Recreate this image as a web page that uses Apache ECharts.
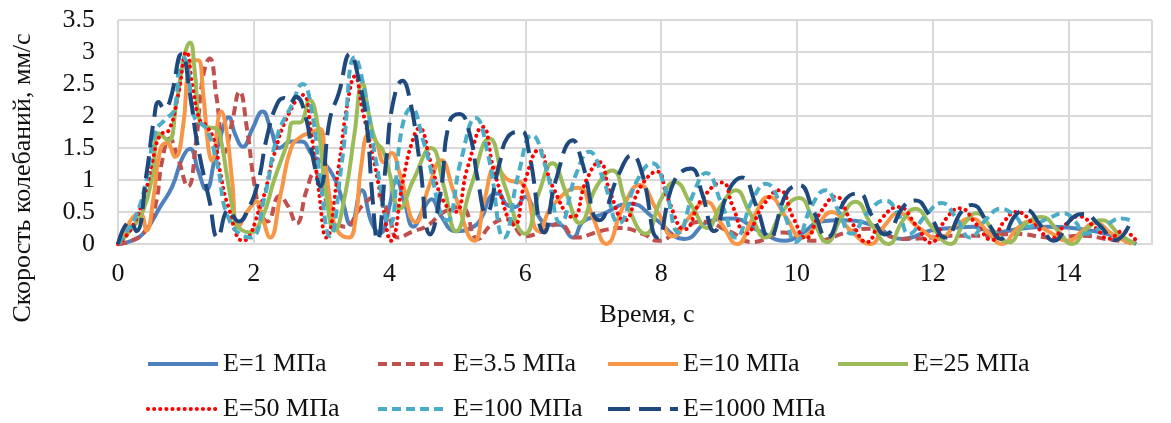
<!DOCTYPE html>
<html>
<head>
<meta charset="utf-8">
<script src="https://cdn.jsdelivr.net/npm/echarts@6/dist/echarts.min.js"></script>
<style>
  html, body { margin: 0; padding: 0; background: #fff; }
  #chart { width: 1171px; height: 423px; }
</style>
</head>
<body>
<div id="chart"></div>
<script>
// Vibration velocity (mm/s) versus time (s) for several soil moduli E.
// Each series is a list of [time, velocity] points.

const seriesNames = ['E=1 МПа', 'E=3.5 МПа', 'E=10 МПа', 'E=25 МПа', 'E=50 МПа', 'E=100 МПа', 'E=1000 МПа'];

const xTicks = [0, 2, 4, 6, 8, 10, 12, 14];

const e1 = [[0,0],[0.2,0.05],[0.4,0.2],[0.62,0.58],[0.8,0.9],[0.95,1.35],[1.06,1.49],[1.18,1.15],[1.3,0.85],[1.42,1.3],[1.52,1.72],[1.63,1.98],[1.73,1.7],[1.84,1.52],[1.98,1.8],[2.13,2.07],[2.25,1.8],[2.38,1.5],[2.55,1.6],[2.7,1.6],[2.87,1.38],[3.05,1.25],[3.2,1.0],[3.3,0.7],[3.43,0.3],[3.59,0.84],[3.74,0.32],[3.86,0.17],[4.0,0.6],[4.1,1.0],[4.22,0.65],[4.35,0.27],[4.5,0.55],[4.62,0.7],[4.75,0.45],[4.98,0.2],[5.2,0.25],[5.35,0.4],[5.5,0.76],[5.6,0.79],[5.72,0.62],[5.85,0.58],[6.0,0.74],[6.15,0.5],[6.35,0.3],[6.5,0.3],[6.7,0.1],[6.85,0.35],[7.1,0.45],[7.55,0.63],[7.9,0.4],[8.35,0.08],[8.7,0.35],[9.05,0.4],[9.45,0.2],[9.83,0.05],[10.08,0.17],[10.35,0.35],[10.65,0.37],[11.1,0.3],[11.55,0.08],[12.0,0.22],[12.3,0.25],[12.6,0.27],[12.9,0.18],[13.3,0.24],[13.7,0.27],[14.05,0.25],[14.43,0.19],[14.75,0.1],[15.0,0.0]];

const e3_5 = [[0,0],[0.2,0.05],[0.4,0.2],[0.55,0.6],[0.65,1.3],[0.76,1.65],[0.88,1.35],[1.03,0.9],[1.15,1.6],[1.25,2.6],[1.35,2.9],[1.45,2.3],[1.57,1.43],[1.68,1.9],[1.79,2.38],[1.9,1.8],[2.0,1.0],[2.1,0.5],[2.2,0.35],[2.38,0.75],[2.5,0.6],[2.63,0.32],[2.78,0.85],[2.9,1.12],[3.0,0.9],[3.15,0.45],[3.34,0.27],[3.6,0.6],[3.82,0.76],[4.0,0.4],[4.12,0.1],[4.35,0.2],[4.55,0.28],[4.8,0.5],[5.05,0.58],[5.3,0.08],[5.5,0.3],[5.72,0.39],[6.0,0.12],[6.25,0.2],[6.5,0.32],[6.75,0.1],[7.1,0.2],[7.4,0.25],[7.75,0.15],[7.95,0.05],[8.3,0.25],[8.6,0.35],[9.0,0.2],[9.35,0.03],[9.8,0.18],[10.24,0.05],[10.8,0.2],[11.05,0.24],[11.55,0.08],[12.0,0.1],[12.27,0.13],[12.8,0.13],[13.2,0.16],[13.78,0.1],[14.2,0.13],[14.6,0.07],[15.0,0.02]];

const e10 = [[0,0],[0.07,0.12],[0.22,0.42],[0.33,0.47],[0.42,0.21],[0.52,0.7],[0.62,1.47],[0.72,1.58],[0.84,1.36],[0.96,1.85],[1.03,2.7],[1.1,2.87],[1.18,2.87],[1.25,2.4],[1.33,1.51],[1.38,1.3],[1.52,2.07],[1.6,1.75],[1.68,1.0],[1.77,0.26],[1.9,0.5],[2.04,0.66],[2.13,0.4],[2.24,0.1],[2.4,0.8],[2.55,1.5],[2.7,1.68],[2.85,1.74],[2.97,1.8],[3.05,1.3],[3.15,0.5],[3.25,0.18],[3.4,0.1],[3.5,0.4],[3.58,1.2],[3.7,1.72],[3.8,1.6],[3.92,1.28],[4.03,1.42],[4.15,1.1],[4.39,0.34],[4.58,0.9],[4.76,1.31],[4.95,0.8],[5.25,0.05],[5.4,0.7],[5.57,1.2],[5.75,1.0],[5.95,0.95],[6.2,0.2],[6.4,0.6],[6.78,0.88],[7.0,0.4],[7.19,0.0],[7.45,0.6],[7.68,0.92],[7.95,0.5],[8.18,0.12],[8.4,0.4],[8.66,0.66],[8.9,0.3],[9.12,0.0],[9.35,0.4],[9.59,0.74],[9.85,0.4],[10.07,0.1],[10.3,0.3],[10.51,0.5],[10.8,0.2],[11.08,0.0],[11.3,0.3],[11.5,0.48],[11.8,0.25],[12.09,0.08],[12.35,0.3],[12.57,0.4],[12.8,0.2],[13.02,0.0],[13.25,0.25],[13.44,0.35],[13.7,0.2],[14.0,0.05],[14.2,0.2],[14.39,0.33],[14.65,0.15],[14.93,0.0]];

const e25 = [[0,0],[0.18,0.21],[0.37,0.52],[0.51,1.1],[0.6,1.73],[0.74,1.62],[0.86,2.2],[0.98,2.95],[1.06,3.15],[1.13,2.7],[1.2,1.93],[1.3,1.83],[1.45,1.8],[1.52,1.6],[1.6,1.1],[1.68,0.6],[1.75,0.3],[1.94,0.18],[2.12,0.4],[2.3,1.0],[2.5,1.6],[2.58,1.9],[2.68,1.9],[2.82,2.25],[2.95,1.8],[3.05,0.9],[3.19,0.21],[3.35,0.8],[3.48,1.7],[3.6,2.51],[3.7,2.0],[3.8,1.6],[3.9,1.47],[4.0,1.1],[4.15,0.55],[4.35,1.0],[4.61,1.5],[4.8,0.9],[4.98,0.2],[5.2,0.9],[5.47,1.65],[5.7,0.9],[6.0,0.16],[6.2,0.8],[6.4,1.26],[6.6,0.8],[6.8,0.33],[7.05,0.9],[7.28,1.15],[7.5,0.6],[7.77,0.16],[8.0,0.7],[8.2,0.97],[8.45,0.6],[8.68,0.25],[8.88,0.6],[9.1,0.84],[9.3,0.5],[9.54,0.1],[9.78,0.5],[10.03,0.72],[10.25,0.35],[10.44,0.03],[10.65,0.4],[10.86,0.66],[11.1,0.3],[11.35,0.0],[11.55,0.35],[11.74,0.55],[12.0,0.25],[12.26,0.0],[12.45,0.3],[12.65,0.48],[12.9,0.2],[13.12,0.03],[13.35,0.3],[13.6,0.42],[13.85,0.2],[14.05,0.0],[14.28,0.25],[14.49,0.37],[14.75,0.15],[14.98,0.0]];

const e50 = [[0,0],[0.2,0.25],[0.4,0.8],[0.5,1.26],[0.62,1.7],[0.75,1.78],[0.88,2.3],[1.01,3.0],[1.1,2.45],[1.2,1.95],[1.3,1.85],[1.42,1.6],[1.5,1.15],[1.62,0.6],[1.84,0.05],[2.1,0.6],[2.3,1.4],[2.5,2.0],[2.72,2.33],[2.85,1.7],[2.95,0.9],[3.07,0.1],[3.25,1.2],[3.38,2.2],[3.49,2.62],[3.6,2.1],[3.75,1.4],[3.9,0.6],[4.02,0.05],[4.2,1.0],[4.32,1.55],[4.44,1.81],[4.6,1.3],[4.78,0.7],[4.96,0.5],[5.15,1.2],[5.37,1.83],[5.55,1.1],[5.84,0.3],[6.0,1.0],[6.2,1.47],[6.4,0.9],[6.7,0.42],[6.9,1.0],[7.09,1.28],[7.25,0.8],[7.46,0.37],[7.7,0.9],[7.94,1.13],[8.1,0.7],[8.35,0.23],[8.6,0.7],[8.9,0.96],[9.05,0.6],[9.25,0.16],[9.5,0.6],[9.74,0.84],[9.95,0.4],[10.13,0.09],[10.35,0.5],[10.57,0.74],[10.8,0.35],[11.03,0.03],[11.25,0.4],[11.5,0.58],[11.75,0.3],[11.97,0.02],[12.2,0.4],[12.4,0.56],[12.65,0.3],[12.87,0.06],[13.05,0.35],[13.24,0.5],[13.5,0.3],[13.75,0.09],[13.95,0.3],[14.15,0.43],[14.4,0.25],[14.59,0.08],[14.8,0.2],[15.0,0.05]];

const e100 = [[0,0],[0.1,0.15],[0.25,0.4],[0.42,1.0],[0.55,1.75],[0.7,1.95],[0.83,2.1],[0.93,2.97],[1.02,2.8],[1.12,2.0],[1.3,1.8],[1.45,1.3],[1.65,0.35],[1.95,0.1],[2.15,0.7],[2.35,1.7],[2.55,2.15],[2.72,2.5],[2.85,2.1],[2.98,1.0],[3.12,0.12],[3.3,1.3],[3.49,2.92],[3.63,2.4],[3.8,1.3],[4.0,0.3],[4.18,1.8],[4.32,2.12],[4.5,1.6],[4.85,0.37],[5.05,1.3],[5.27,1.97],[5.45,1.4],[5.69,0.1],[5.9,1.1],[6.1,1.7],[6.3,1.2],[6.52,0.33],[6.75,1.1],[6.94,1.44],[7.15,1.0],[7.38,0.33],[7.65,1.0],[7.87,1.26],[8.05,0.9],[8.26,0.18],[8.48,0.8],[8.66,1.11],[8.9,0.6],[9.1,0.1],[9.35,0.7],[9.54,0.94],[9.8,0.5],[9.98,0.03],[10.22,0.6],[10.42,0.84],[10.62,0.5],[10.8,0.16],[11.05,0.5],[11.3,0.68],[11.5,0.45],[11.65,0.16],[11.9,0.45],[12.13,0.64],[12.35,0.4],[12.55,0.1],[12.8,0.4],[13.0,0.55],[13.2,0.45],[13.38,0.27],[13.7,0.4],[13.93,0.48],[14.1,0.35],[14.24,0.16],[14.55,0.3],[14.78,0.4],[14.96,0.35]];

const e1000 = [[0,0],[0.18,0.35],[0.27,0.2],[0.42,1.1],[0.53,1.95],[0.6,2.22],[0.68,2.12],[0.76,2.22],[0.94,2.97],[1.06,2.35],[1.16,1.62],[1.35,0.66],[1.47,0.1],[1.63,0.53],[1.78,0.35],[1.92,0.55],[2.06,0.95],[2.2,1.7],[2.35,2.2],[2.45,2.28],[2.53,2.2],[2.62,2.3],[2.75,2.05],[2.88,1.3],[2.98,0.9],[3.12,1.95],[3.25,2.35],[3.42,2.97],[3.55,2.55],[3.66,1.9],[3.75,0.7],[3.82,0.06],[3.95,1.3],[4.05,2.2],[4.19,2.55],[4.3,2.25],[4.44,1.31],[4.6,0.15],[4.75,0.8],[4.88,1.9],[5.03,2.03],[5.18,1.72],[5.3,1.0],[5.42,0.48],[5.62,1.26],[5.74,1.67],[5.94,1.76],[6.05,1.45],[6.28,0.18],[6.45,1.0],[6.7,1.62],[6.83,1.3],[7.09,0.37],[7.38,1.1],[7.57,1.39],[7.72,1.1],[7.95,0.1],[8.2,1.0],[8.44,1.18],[8.6,0.8],[8.78,0.2],[9.0,0.85],[9.19,1.04],[9.4,0.6],[9.59,0.1],[9.85,0.8],[10.03,0.92],[10.25,0.5],[10.44,0.1],[10.72,0.7],[10.91,0.79],[11.1,0.45],[11.3,0.15],[11.58,0.6],[11.75,0.68],[11.95,0.45],[12.19,0.1],[12.42,0.5],[12.58,0.61],[12.8,0.35],[13.0,0.08],[13.22,0.45],[13.38,0.53],[13.58,0.3],[13.78,0.05],[14.05,0.4],[14.23,0.47],[14.45,0.3],[14.69,0.06],[14.93,0.38]];

const seriesData = [e1, e3_5, e10, e25, e50, e100, e1000];

const FONT = '"Liberation Serif", "Times New Roman", serif';
const TEXT = '#111';
const LINE_W = 4;

// Line appearance per series: colour, dash pattern, cap.
const styles = [
  { color: '#4F81BD', type: 'solid', cap: 'butt' },
  { color: '#C0504D', type: [9, 5], cap: 'butt' },
  { color: '#F79646', type: 'solid', cap: 'butt' },
  { color: '#9BBB59', type: 'solid', cap: 'butt' },
  { color: '#FF0000', type: [0.1, 6], cap: 'round' },
  { color: '#4BACC6', type: [9, 5], cap: 'butt' },
  { color: '#1F497D', type: [22, 9], cap: 'butt' }
];

// Legend slots: two rows, fixed columns.
const legendSlots = [[146, 351], [376, 351], [606, 351], [836, 351], [146, 396], [376, 396], [606, 396]];

const chart = echarts.init(document.getElementById('chart'));

chart.setOption({
  animation: false,
  backgroundColor: '#fff',
  grid: { left: 118, right: 19, top: 20, bottom: 179 },
  xAxis: {
    type: 'value',
    min: 0,
    max: 15.23,
    interval: 2,
    axisLine: { show: true, lineStyle: { color: '#d9d9d9', width: 2 } },
    axisTick: { show: false },
    axisLabel: {
      margin: 17,
      fontFamily: FONT,
      fontSize: 26,
      color: TEXT,
      formatter: v => (xTicks.includes(v) ? String(v) : '')
    },
    splitLine: { show: true, lineStyle: { color: '#d9d9d9', width: 2 } }
  },
  yAxis: {
    type: 'value',
    min: 0,
    max: 3.5,
    interval: 0.5,
    axisLine: { show: false },
    axisTick: { show: false },
    axisLabel: { margin: 23, fontFamily: FONT, fontSize: 26, color: TEXT },
    splitLine: { show: true, lineStyle: { color: '#d9d9d9', width: 2 } }
  },
  legend: seriesNames.map((name, i) => ({
    data: [{ name: name, itemStyle: { opacity: 0 } }],
    left: legendSlots[i][0],
    top: legendSlots[i][1],
    padding: 0,
    itemWidth: 70,
    itemHeight: 14,
    selectedMode: false,
    itemStyle: { opacity: 0 },
    lineStyle: {
      width: LINE_W,
      color: styles[i].color,
      type: styles[i].type,
      cap: styles[i].cap
    },
    textStyle: { fontFamily: FONT, fontSize: 26, color: TEXT }
  })),
  graphic: [
    {
      type: 'text',
      x: 23,
      y: 178,
      rotation: Math.PI / 2,
      style: {
        text: 'Скорость колебаний, мм/с',
        font: '26px ' + FONT,
        fill: TEXT,
        textAlign: 'center',
        textVerticalAlign: 'middle'
      }
    },
    {
      type: 'text',
      x: 647,
      y: 315,
      style: {
        text: 'Время, с',
        font: '26px ' + FONT,
        fill: TEXT,
        textAlign: 'center',
        textVerticalAlign: 'middle'
      }
    }
  ],
  series: seriesNames.map((name, i) => ({
    name: name,
    type: 'line',
    data: seriesData[i],
    smooth: 0.5,
    symbol: 'none',
    showSymbol: false,
    clip: true,
    lineStyle: {
      width: LINE_W,
      color: styles[i].color,
      type: styles[i].type,
      cap: styles[i].cap
    },
    itemStyle: { color: styles[i].color },
    emphasis: { disabled: true }
  }))
});
</script>
</body>
</html>
